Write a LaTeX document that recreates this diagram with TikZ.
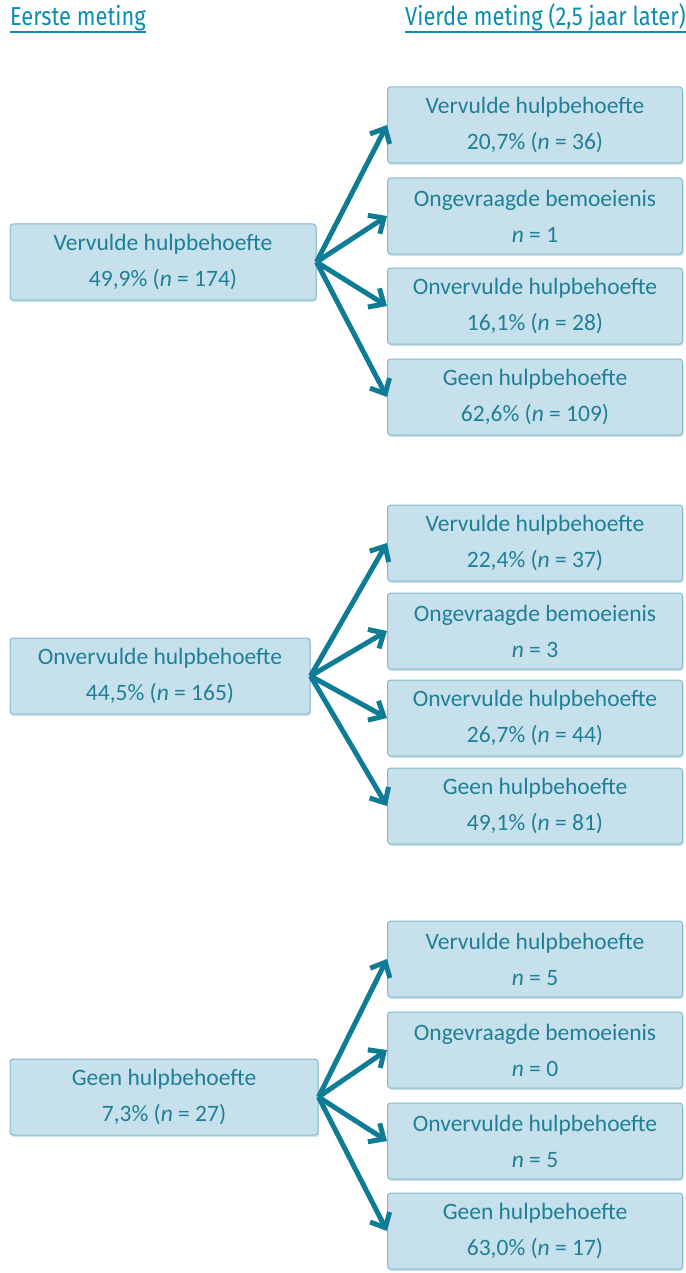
\documentclass[tikz,border=0pt]{standalone}
\usepackage{fontspec}
\setmainfont{Carlito}
\newfontfamily\headfont[FakeStretch=0.84]{Fira Sans}
\usetikzlibrary{arrows.meta,shadows}

\definecolor{boxfill}{HTML}{C6E1EB}
\definecolor{boxline}{HTML}{86B9CB}
\definecolor{boxtext}{HTML}{207F98}
\definecolor{arrowcol}{HTML}{0F7C95}
\definecolor{headcol}{HTML}{0B8DB0}

\tikzset{
  meting/.style={draw=boxline, fill=boxfill, rounded corners=3pt, line width=1pt,
    minimum height=76pt, text=boxtext, align=center, font=\fontsize{23.5}{36}\selectfont,
    drop shadow={shadow xshift=1pt, shadow yshift=-2pt, opacity=0.4, fill=boxline}},
  links/.style={meting, minimum width=306pt},
  rechts/.style={meting, minimum width=295pt},
  pijl/.style={draw=arrowcol, line width=5pt, -{Straight Barb[length=12pt,width=22pt]}},
  kop/.style={text=headcol, font=\headfont\fontsize{26}{30}\selectfont, inner sep=0pt, anchor=base west}
}

\begin{document}
\begin{tikzpicture}[x=1pt,y=-1pt]
  \useasboundingbox (0,0) rectangle (685,1273);

  % kopjes
  \node[kop] (eerste) at (10,26) {Eerste meting};
  \node[kop] (vierde) at (405,26) {Vierde meting (2,5 jaar later)};
  \draw[headcol, line width=1.5pt] (10,32) -- (eerste.east |- 0,32);
  \draw[headcol, line width=1.5pt] (405,32) -- (vierde.east |- 0,32);

  % eerste meting
  \node[links] (vervuld) at (163,262) {Vervulde hulpbehoefte\\49,9\% (\textit{n} = 174)};
  \node[links, minimum width=300pt] (onvervuld) at (160,676) {Onvervulde hulpbehoefte\\44,5\% (\textit{n} = 165)};
  \node[links, minimum width=308pt] (geen) at (164,1097) {Geen hulpbehoefte\\7,3\% (\textit{n} = 27)};

  % vierde meting
  \node[rechts] (vervuld-a) at (535,125) {Vervulde hulpbehoefte\\20,7\% (\textit{n} = 36)};
  \node[rechts] (vervuld-b) at (535,216) {Ongevraagde bemoeienis\\\textit{n} = 1};
  \node[rechts] (vervuld-c) at (535,306) {Onvervulde hulpbehoefte\\16,1\% (\textit{n} = 28)};
  \node[rechts] (vervuld-d) at (535,397) {Geen hulpbehoefte\\62,6\% (\textit{n} = 109)};

  \node[rechts] (onvervuld-a) at (535,543) {Vervulde hulpbehoefte\\22,4\% (\textit{n} = 37)};
  \node[rechts] (onvervuld-b) at (535,631) {Ongevraagde bemoeienis\\\textit{n} = 3};
  \node[rechts] (onvervuld-c) at (535,718) {Onvervulde hulpbehoefte\\26,7\% (\textit{n} = 44)};
  \node[rechts] (onvervuld-d) at (535,806) {Geen hulpbehoefte\\49,1\% (\textit{n} = 81)};

  \node[rechts] (geen-a) at (535,959) {Vervulde hulpbehoefte\\\textit{n} = 5};
  \node[rechts] (geen-b) at (535,1050) {Ongevraagde bemoeienis\\\textit{n} = 0};
  \node[rechts] (geen-c) at (535,1141) {Onvervulde hulpbehoefte\\\textit{n} = 5};
  \node[rechts] (geen-d) at (535,1231) {Geen hulpbehoefte\\63,0\% (\textit{n} = 17)};

  % pijlen
  \foreach \g in {vervuld, onvervuld, geen}
    \foreach \k in {a, b, c, d}
      \draw[pijl] (\g.east) -- (\g-\k.west);
\end{tikzpicture}
\end{document}
